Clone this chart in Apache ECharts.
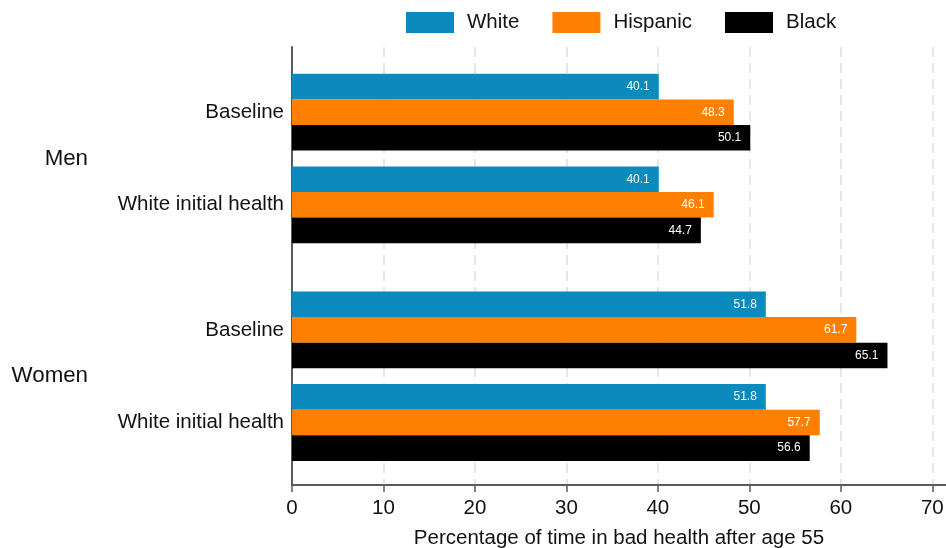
<!DOCTYPE html>
<html>
<head>
<meta charset="utf-8">
<script src="https://cdn.jsdelivr.net/npm/echarts@6/dist/echarts.min.js"></script>
<style>
html,body{margin:0;padding:0;background:#fff;}
#chart{width:946px;height:548px;}
</style>
</head>
<body>
<div id="chart"></div>
<script>
// ---- data ----
const scenarios = ['Baseline', 'White initial health'];
const sexes = ['Men', 'Women'];
const races = ['White', 'Hispanic', 'Black'];
const menWhite = [40.1, 40.1];
const menHispanic = [48.3, 46.1];
const menBlack = [50.1, 44.7];
const womenWhite = [51.8, 51.8];
const womenHispanic = [61.7, 57.7];
const womenBlack = [65.1, 56.6];
const xTicks = [0, 10, 20, 30, 40, 50, 60, 70];
const xTitle = 'Percentage of time in bad health after age 55';

// ---- style ----
const FONT = '"Liberation Sans", Arial, Helvetica, sans-serif';
const FS = 20.5;
const colors = {White: '#0b8bbd', Hispanic: '#ff8000', Black: '#000000'};
const XMAX = 71.5;
const LEFT = 292;

const chart = echarts.init(document.getElementById('chart'));

const seriesData = [
  [menWhite, menHispanic, menBlack],
  [womenWhite, womenHispanic, womenBlack]
];

const series = [];
for (let g = 0; g < 2; g++) {
  races.forEach((r, i) => {
    series.push({
      type: 'bar',
      name: r,
      xAxisIndex: g + 1,
      yAxisIndex: g + 1,
      data: seriesData[g][i],
      barWidth: 25.6,
      barGap: '0%',
      itemStyle: {color: colors[r]},
      label: {
        show: true,
        position: 'insideRight',
        distance: 9,
        color: '#ffffff',
        fontSize: 12,
        fontFamily: FONT,
        formatter: p => p.value.toFixed(1)
      },
      emphasis: {disabled: true}
    });
  });
}

const hiddenX = (idx) => ({
  type: 'value', gridIndex: idx, min: 0, max: XMAX, show: false
});
const catY = (idx, name) => ({
  type: 'category', gridIndex: idx, data: scenarios, inverse: true,
  name: name, nameLocation: 'middle', nameRotate: 0, nameGap: 204,
  nameTextStyle: {fontSize: 22.3, fontFamily: FONT, color: '#111', padding: [7, 0, 0, 0]},
  axisLine: {show: false}, axisTick: {show: false},
  axisLabel: {fontSize: FS, fontFamily: FONT, color: '#111', margin: 8},
  splitLine: {show: false}
});

const option = {
  animation: false,
  backgroundColor: '#fff',
  legend: {
    data: races,
    left: 406,
    top: 12,
    padding: 0,
    icon: 'rect',
    itemWidth: 48,
    itemHeight: 21,
    itemGap: 33,
    textStyle: {fontSize: FS, fontFamily: FONT, color: '#111', padding: [0, 0, 0, 8]}
  },
  grid: [
    {left: LEFT, right: 0, top: 47, height: 438, outerBoundsMode: 'none', containLabel: false},
    {left: LEFT, right: 0, top: 65.9, height: 185.2, outerBoundsMode: 'none', containLabel: false},
    {left: LEFT, right: 0, top: 283.6, height: 185.2, outerBoundsMode: 'none', containLabel: false}
  ],
  xAxis: [
    {
      type: 'value', gridIndex: 0, min: 0, max: XMAX, interval: 10,
      name: xTitle, nameLocation: 'middle', nameGap: 43,
      nameTextStyle: {fontSize: FS, fontFamily: FONT, color: '#111'},
      axisLine: {show: true, onZero: false, lineStyle: {color: '#5a5a5a', width: 2}},
      axisTick: {show: true, length: 7, lineStyle: {color: '#5a5a5a', width: 1.5}, customValues: xTicks},
      axisLabel: {fontSize: FS, fontFamily: FONT, color: '#111', margin: 13, customValues: xTicks},
      splitLine: {show: true, lineStyle: {color: '#e6e6e6', width: 2, type: [10, 6]}}
    },
    hiddenX(1),
    hiddenX(2)
  ],
  yAxis: [
    {
      type: 'value', gridIndex: 0, min: 0, max: 1,
      axisLine: {show: true, onZero: false, lineStyle: {color: '#5a5a5a', width: 2}},
      axisTick: {show: false}, axisLabel: {show: false}, splitLine: {show: false}
    },
    catY(1, sexes[0]),
    catY(2, sexes[1])
  ],
  series: series
};
chart.setOption(option);
</script>
</body>
</html>
